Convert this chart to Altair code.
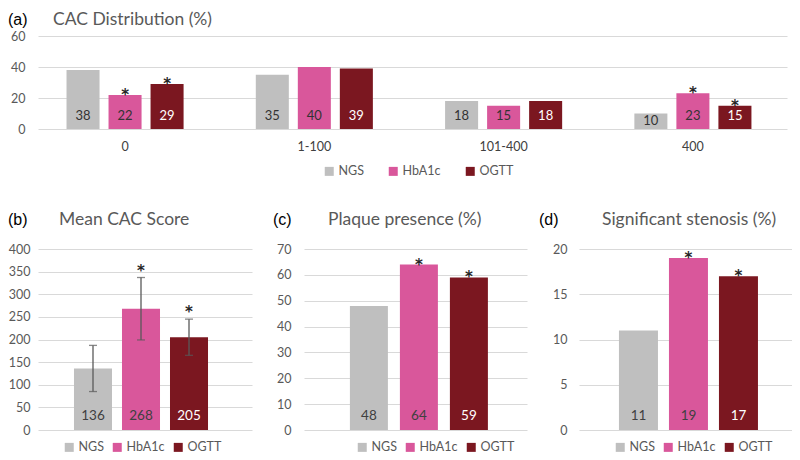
import altair as alt
import pandas as pd

# ---------------- data ----------------
groups = ["NGS", "HbA1c", "OGTT"]
colors = ["#BFBFBF", "#D9579B", "#7B1720"]

cac_categories = ["0", "1-100", "101-400", "400"]
cac_ngs = [38, 35, 18, 10]
cac_hba1c = [22, 40, 15, 23]
cac_ogtt = [29, 39, 18, 15]
cac_star_ngs = [0, 0, 0, 0]
cac_star_hba1c = [1, 0, 0, 1]
cac_star_ogtt = [1, 0, 0, 1]

mean_cac = [136, 268, 205]
mean_cac_err = [51, 69, 40]
mean_cac_star = [0, 1, 1]

plaque = [48, 64, 59]
plaque_star = [0, 1, 1]

stenosis = [11, 19, 17]
stenosis_star = [0, 1, 1]

titles = ["CAC Distribution (%)", "Mean CAC Score", "Plaque presence (%)", "Significant stenosis (%)"]
letters = ["(a)", "(b)", "(c)", "(d)"]

FONT = "Lato"
STAR_FONT = "DejaVu Sans"
GRID = "#D9D9D9"
AXIS_TXT = "#595959"
DARK_TXT = "#333333"
ERR = "#595959"


def y_axis(values, pad):
    return alt.Axis(values=values, title=None, domain=False, ticks=False, grid=True,
                    gridColor=GRID, gridWidth=1, labelPadding=pad, labelFontSize=12.5,
                    labelColor=AXIS_TXT, labelFont=FONT, labelOverlap=False,
                    labelBound=False, labelFlush=False)


def color_enc(legend_x, legend_y, colpad):
    return alt.Color("group:N", sort=groups,
                     scale=alt.Scale(domain=groups, range=colors),
                     legend=alt.Legend(orient="none", legendX=legend_x, legendY=legend_y,
                                       direction="horizontal", title=None, symbolType="square",
                                       symbolSize=81, symbolStrokeWidth=0, labelFontSize=12.5,
                                       labelColor=AXIS_TXT, labelFont=FONT, columnPadding=colpad,
                                       labelOffset=3, padding=0))


def heading(title, letter, title_x, letter_x, y):
    t = alt.Chart(pd.DataFrame({"t": [title]})).mark_text(
        align="left", baseline="middle", fontSize=17.5, font=FONT, color=AXIS_TXT
    ).encode(text="t:N", x=alt.value(title_x), y=alt.value(y))
    l = alt.Chart(pd.DataFrame({"t": [letter]})).mark_text(
        align="left", baseline="middle", fontSize=16, font="Liberation Sans", color="#000000"
    ).encode(text="t:N", x=alt.value(letter_x), y=alt.value(y))
    return [t, l]


def star_mark(dy):
    return dict(text="*", baseline="alphabetic", dy=dy, fontSize=15, font=STAR_FONT,
                fontWeight="bold", color="#262626")


# ---------------- panel (a) ----------------
rows = []
for i, cat in enumerate(cac_categories):
    for g, arr, st in zip(groups, [cac_ngs, cac_hba1c, cac_ogtt],
                          [cac_star_ngs, cac_star_hba1c, cac_star_ogtt]):
        rows.append({"cat": cat, "group": g, "v": arr[i], "star": st[i]})
df_top = pd.DataFrame(rows)

TOP_W, TOP_H = 749, 93
top_ticks = [0, 20, 40, 60]
top_scale = alt.Scale(domain=[0, 60])
base = alt.Chart(df_top).transform_calculate(
    ylab="datum.v < 12 ? datum.v / 2 : 8.5"
)
x_top = alt.X("cat:N", sort=cac_categories, title=None,
              scale=alt.Scale(paddingInner=0.334, paddingOuter=0.1455, align=0.436),
              axis=alt.Axis(labelAngle=0, ticks=False, domain=False, labelPadding=11,
                            labelFontSize=12.5, labelColor="#404040", labelFont=FONT, grid=False))
xo_top = alt.XOffset("group:N", sort=groups,
                     scale=alt.Scale(paddingInner=0.214, paddingOuter=0.107))


def ytop(field):
    return alt.Y(field, scale=top_scale, axis=y_axis(top_ticks, 13))


bars_top = base.mark_bar().encode(x=x_top, xOffset=xo_top, y=ytop("v:Q"),
                                  color=color_enc(285, 129, 23))
labels_top = base.mark_text(baseline="middle", fontSize=13, font=FONT).encode(
    x=x_top, xOffset=xo_top, y=ytop("ylab:Q"), text="v:Q",
    color=alt.condition(alt.datum.group == "OGTT", alt.value("white"), alt.value(DARK_TXT)))
stars_top = base.transform_filter(alt.datum.star == 1).mark_text(**star_mark(5)).encode(
    x=x_top, xOffset=xo_top, y=ytop("v:Q"))

top = alt.layer(bars_top, labels_top, stars_top,
                *heading(titles[0], letters[0], 15, -30, -16)
                ).properties(width=TOP_W, height=TOP_H)

# ---------------- bottom panels ----------------
BOT_H = 181


def panel(vals, stars, errs, domain, ticks, title, letter, width, pin, pout, align,
          legend_x, title_x, letter_x, pad):
    df = pd.DataFrame({"group": groups, "v": vals, "star": stars})
    if errs is not None:
        df["lo"] = [v - e for v, e in zip(vals, errs)]
        df["hi"] = [v + e for v, e in zip(vals, errs)]
        df["top"] = df["hi"]
    else:
        df["top"] = df["v"]
    b = alt.Chart(df)
    x = alt.X("group:N", sort=groups, title=None,
              scale=alt.Scale(paddingInner=pin, paddingOuter=pout, align=align), axis=None)

    def yy(field):
        return alt.Y(field, scale=alt.Scale(domain=domain), axis=y_axis(ticks, pad))

    layers = [
        b.mark_bar().encode(x=x, y=yy("v:Q"), color=color_enc(legend_x, 192, 7)),
        b.mark_text(baseline="middle", fontSize=13.5, font=FONT).encode(
            x=x, y=alt.value(BOT_H - 14), text="v:Q",
            color=alt.condition(alt.datum.group == "OGTT", alt.value("white"),
                                alt.value("#404040"))),
    ]
    if errs is not None:
        layers += [
            b.mark_rule(color=ERR, strokeWidth=1.3).encode(x=x, y=yy("lo:Q"), y2="hi:Q"),
            b.mark_tick(color=ERR, size=8, thickness=1.3).encode(x=x, y=yy("lo:Q")),
            b.mark_tick(color=ERR, size=8, thickness=1.3).encode(x=x, y=yy("hi:Q")),
        ]
    layers.append(
        b.transform_filter(alt.datum.star == 1).mark_text(
            **star_mark(-2 if errs is not None else 5)).encode(x=x, y=yy("top:Q")))
    layers += heading(title, letter, title_x, letter_x, -29)
    return alt.layer(*layers).properties(width=width, height=BOT_H)


pb = panel(mean_cac, mean_cac_star, mean_cac_err, [0, 400], list(range(0, 401, 50)),
           titles[1], letters[1], 214, 0.208, 0.833, 0.45, 25, 21, -30, 8)
pc = panel(plaque, plaque_star, None, [0, 70], list(range(0, 71, 10)),
           titles[2], letters[2], 223, 0.24, 0.85, 0.54, 52, 24, -31, 13)
pd_ = panel(stenosis, stenosis_star, None, [0, 20], list(range(0, 21, 5)),
            titles[3], letters[3], 213, 0.22, 0.74, 0.54, 35, 23, -40, 12)

bottom = alt.hconcat(pb, pc, pd_, spacing=52, bounds="flush").resolve_scale(
    color="independent").resolve_legend(color="independent")

chart = alt.vconcat(top, bottom, spacing=120, bounds="flush").resolve_scale(
    color="independent").resolve_legend(color="independent").properties(
    padding={"top": 3, "left": 0, "right": 0, "bottom": 0}
).configure(font=FONT).configure_view(stroke=None)

chart.save("out.html", embed_options={"renderer": "svg", "actions": False})
